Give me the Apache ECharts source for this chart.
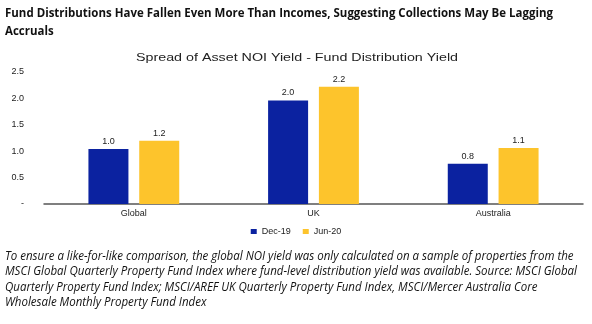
<!DOCTYPE html>
<html><head><meta charset="utf-8">
<script src="https://cdn.jsdelivr.net/npm/echarts@6/dist/echarts.min.js"></script>
<style>html,body{margin:0;padding:0;background:#fff}#c{width:592px;height:324px}</style>
</head><body><div id="c"></div>
<script>
const categories = ['Global', 'UK', 'Australia'];
const dec19 = [1.04, 1.96, 0.76];
const jun20 = [1.2, 2.22, 1.06];
const seriesNames = ['Dec-19', 'Jun-20'];
const titleLines = ['Fund Distributions Have Fallen Even More Than Incomes, Suggesting Collections May Be Lagging', 'Accruals'];
const chartTitle = 'Spread of Asset NOI Yield - Fund Distribution Yield';
const noteLines = [
  'To ensure a like-for-like comparison, the global NOI yield was only calculated on a sample of properties from the',
  'MSCI Global Quarterly Property Fund Index where fund-level distribution yield was available. Source: MSCI Global',
  'Quarterly Property Fund Index; MSCI/AREF UK Quarterly Property Fund Index, MSCI/Mercer Australia Core',
  'Wholesale Monthly Property Fund Index'
];
const titleFont = 'bold 13px "Open Sans", sans-serif';
const noteFont = 'italic 12.5px "Open Sans", sans-serif';
const subFont = '11.5px "Liberation Sans", Arial, sans-serif';
const mc = document.createElement('canvas').getContext('2d');
function measure(font, text) { mc.font = font; return mc.measureText(text).width; }
const titleScale = 548 / measure(titleFont, titleLines[0]);
const noteScale = 572 / measure(noteFont, noteLines[1]);
const subW = measure(subFont, chartTitle);
const subScale = 322 / subW;

const chart = echarts.init(document.getElementById('c'), null, {renderer: 'canvas'});
const axisFont = {fontFamily: 'Liberation Sans, Arial, sans-serif', fontSize: 9, color: '#222'};
const graphic = [];
titleLines.forEach((t, i) => graphic.push({type: 'text', x: 5, y: 7 + i * 18, scaleX: titleScale, style: {text: t, font: titleFont, fill: '#111'}}));
noteLines.forEach((t, i) => graphic.push({type: 'text', x: 5, y: 250 + i * 15.3, scaleX: noteScale, style: {text: t, font: noteFont, fill: '#111'}}));
graphic.push({type: 'text', x: 136, y: 52, scaleX: subScale, style: {text: chartTitle, font: subFont, fill: '#222'}});
chart.setOption({
  animation: false,
  color: ['#0B22A0', '#FDC42C'],
  legend: {data: seriesNames, top: 222, left: 'center', itemWidth: 6, itemHeight: 5, itemGap: 12, icon: 'rect', textStyle: axisFont},
  grid: {left: 44, right: 9, top: 72, bottom: 120},
  xAxis: {type: 'category', data: categories, axisTick: {show: false}, axisLine: {lineStyle: {color: '#555', width: 1.5}}, axisLabel: Object.assign({margin: 5}, axisFont)},
  yAxis: {type: 'value', min: 0, max: 2.5, interval: 0.5, splitLine: {show: false}, axisLine: {show: false}, axisTick: {show: false},
    axisLabel: Object.assign({margin: 20, align: 'right', formatter: v => v === 0 ? '-' : v.toFixed(1)}, axisFont)},
  series: [dec19, jun20].map((d, i) => ({
    name: seriesNames[i], type: 'bar', data: d, barWidth: 40, barGap: '27%',
    label: {show: true, position: 'top', distance: 3, formatter: p => p.value.toFixed(1), fontFamily: 'Liberation Sans, Arial, sans-serif', fontSize: 9, color: '#222'}
  })),
  graphic: graphic
});
</script></body></html>
